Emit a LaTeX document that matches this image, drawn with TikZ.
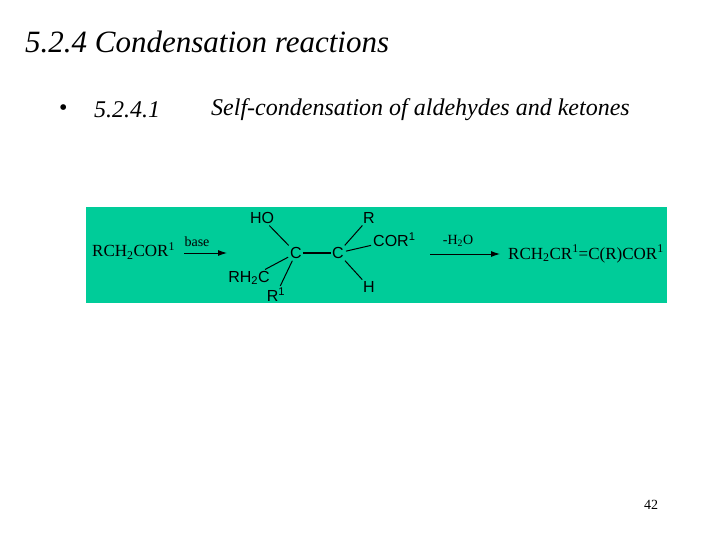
\documentclass[tikz,border=0pt]{standalone}
\usepackage{fontspec}
\setmainfont{Liberation Serif}
\newfontfamily\chemsans{Liberation Sans}
\definecolor{boxgreen}{RGB}{0,204,153}
\usetikzlibrary{arrows.meta}
\begin{document}
\begin{tikzpicture}[x=1pt,y=-1pt,
  ser/.style={inner sep=0pt,font=\fontsize{17}{19}\selectfont},
  sans/.style={inner sep=1pt,font=\chemsans\fontsize{16}{18}\selectfont},
  bond/.style={line width=1pt,shorten <=1pt,shorten >=1pt},
  rxn/.style={-{Latex[length=9pt,width=6pt]},line width=0.9pt}]
\useasboundingbox (0,0) rectangle (720,540);
\node[anchor=west,inner sep=0pt,font=\itshape\fontsize{31}{36}\selectfont] (title) at (25,42) {5.2.4 Condensation reactions};
\node[anchor=west,inner sep=0pt,font=\fontsize{24}{28}\selectfont] (bul) at (59,110) {•};
\node[anchor=west,inner sep=0pt,font=\itshape\fontsize{24}{28}\selectfont] (num) at (94,110) {5.2.4.1};
\node[anchor=west,inner sep=0pt,font=\itshape\fontsize{24}{28}\selectfont] (sub) at (211,110) {Self-condensation of aldehydes and ketones};
\fill[boxgreen] (86,207) rectangle (667,303);
\node[ser,anchor=west] (r) at (92,251) {RCH\textsubscript{2}COR\textsuperscript{1}};
\coordinate (a1e) at (227,253);
\draw[rxn] (184,253) -- (a1e);
\node[ser,font=\fontsize{14}{16}\selectfont] (base) at (197,242) {base};
\node[sans] (c1) at (296,253) {C};
\node[sans] (c2) at (338,253) {C};
\node[sans] (ho) at (262,218) {HO};
\node[sans] (rr) at (369,218) {R};
\node[sans,anchor=west] (cor) at (372,240) {COR\textsuperscript{1}};
\node[sans] (rh2c) at (249,278) {RH\textsubscript{2}C};
\node[sans] (r1) at (276,295) {R\textsuperscript{1}};
\node[sans] (h) at (369,287) {H};
\draw[line width=1.8pt] (c1) -- (c2);
\draw[bond] (ho) -- (c1);
\draw[bond] (c1) -- (rh2c);
\draw[bond] (c1) -- (r1);
\draw[bond] (c2) -- (rr);
\draw[bond] (c2) -- (cor);
\draw[bond] (c2) -- (h);
\coordinate (a2e) at (500,254);
\draw[rxn] (430,254) -- (a2e);
\node[ser,font=\fontsize{14}{16}\selectfont] (h2o) at (458,241) {-H\textsubscript{2}O};
\node[ser,anchor=west] (p) at (508,254) {RCH\textsubscript{2}CR\textsuperscript{1}=C(R)COR\textsuperscript{1}};
\node[inner sep=0pt,font=\fontsize{14}{16}\selectfont] (pg) at (651,505) {42};
\end{tikzpicture}
\end{document}
